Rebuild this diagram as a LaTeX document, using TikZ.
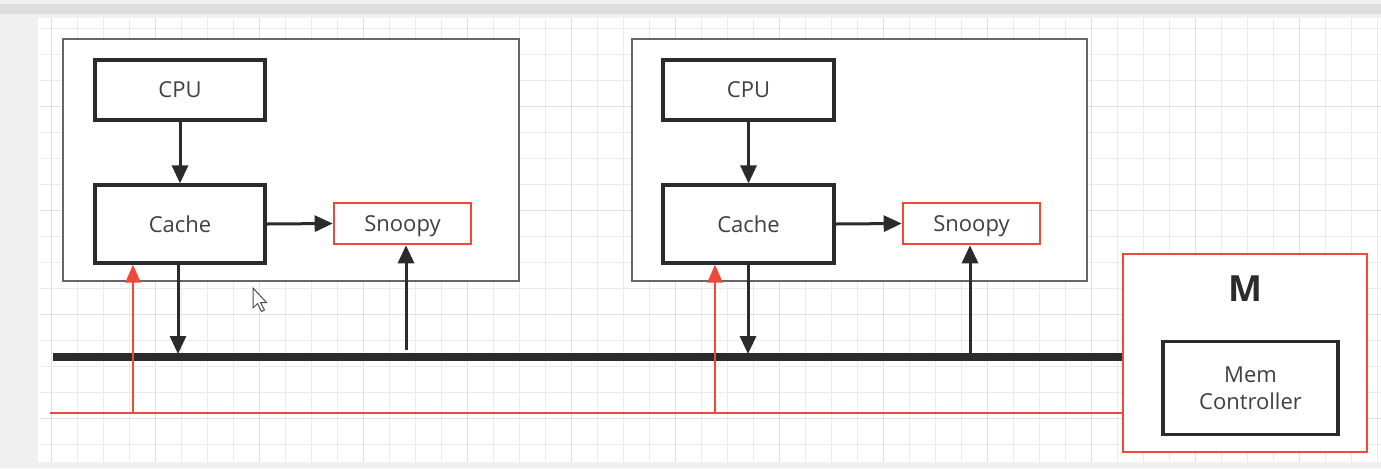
\documentclass[tikz,border=0pt]{standalone}
\usepackage{fontspec}
\setmainfont{Open Sans}
\usetikzlibrary{arrows.meta}
\definecolor{txt}{HTML}{404040}
\definecolor{edge}{HTML}{2B2B2B}
\definecolor{redl}{HTML}{F0493A}
\definecolor{gridc}{HTML}{EBEBEB}
\definecolor{gridm}{HTML}{E0E0E0}
\definecolor{frame}{HTML}{F0F0F0}
\definecolor{topbar}{HTML}{DEDEDE}
\tikzset{
  box/.style={draw=edge, line width=1.6pt, fill=white, text=txt, font=\fontsize{11}{13.5}\selectfont, align=center, inner sep=0pt},
  outerbox/.style={draw=black!60, line width=0.8pt, fill=white, inner sep=0pt},
  redbox/.style={draw=redl, line width=1.3pt, fill=white, text=txt, font=\fontsize{11}{13.5}\selectfont, inner sep=0pt},
  arr/.style={draw=edge, line width=1.5pt, -{Triangle[length=9pt,width=8pt]}},
  rarr/.style={draw=redl, line width=1.2pt, -{Triangle[length=9pt,width=7.5pt]}},
  busline/.style={draw=edge, line width=3.8pt},
  redline/.style={draw=redl, line width=1.2pt},
}
\begin{document}
\begin{tikzpicture}[x=0.5pt,y=-0.5pt]
\useasboundingbox (0,0) rectangle (1381,468);
\fill[frame] (0,0) rectangle (1381,468);
\fill[topbar] (0,4) rectangle (1381,14);
\fill[white] (38,18) rectangle (1381,462);
\begin{scope}
\clip (40,18) rectangle (1381,462);
\foreach \i in {0,...,52} {
  \pgfmathsetmacro{\xx}{25.3+26*\i}
  \pgfmathtruncatemacro{\mj}{mod(\i+3,4)==0 ? 1 : 0}
  \ifnum\mj=1
    \draw[gridm, line width=0.7pt] (\xx,18) -- (\xx,462);
  \else
    \draw[gridc, line width=0.5pt] (\xx,18) -- (\xx,462);
  \fi
}
\foreach \j in {0,...,17} {
  \pgfmathsetmacro{\yy}{28.3+26*\j}
  \pgfmathtruncatemacro{\mj}{mod(\j+1,4)==0 ? 1 : 0}
  \ifnum\mj=1
    \draw[gridm, line width=0.7pt] (40,\yy) -- (1381,\yy);
  \else
    \draw[gridc, line width=0.5pt] (40,\yy) -- (1381,\yy);
  \fi
}
\end{scope}

% outer boxes
\node[outerbox, minimum width=228pt, minimum height=121pt] (outer1) at (291,160) {};
\node[outerbox, minimum width=227.5pt, minimum height=121pt] (outer2) at (859.5,160) {};

% processor 1
\node[box, minimum width=85pt, minimum height=30pt] (cpu1) at (180,90) {CPU};
\node[box, minimum width=85pt, minimum height=39pt] (cache1) at (180,224) {Cache};
\node[redbox, minimum width=68.5pt, minimum height=20.5pt, text depth=0pt] (snoopy1) at (402.5,223.5) {Snoopy};

% processor 2
\node[box, minimum width=85.5pt, minimum height=30pt] (cpu2) at (748.5,90) {CPU};
\node[box, minimum width=85.5pt, minimum height=39pt] (cache2) at (748.5,224) {Cache};
\node[redbox, minimum width=68.5pt, minimum height=20.5pt, text depth=0pt] (snoopy2) at (971.5,223.5) {Snoopy};

% memory
\node[redbox, minimum width=122pt, minimum height=99pt] (M) at (1245,353) {};
\node[text=edge, font=\fontsize{18}{20}\selectfont\bfseries] (mlabel) at (1245,289) {M};
\node[box, minimum width=87.5pt, minimum height=46.5pt] (memc) at (1250.5,388) {Mem\\Controller};

% bus and red line
\coordinate (busL) at (53,357);
\coordinate (redL) at (50,413);
\draw[busline] (busL) -- (busL -| M.west);
\draw[redline] (redL) -- (redL -| M.west);

% coordinates on bus / red line
\coordinate (b1) at (178,354);
\coordinate (s1) at (406,350);
\coordinate (r1) at (133,413);
\coordinate (b2) at (748,354);
\coordinate (s2) at (970,354);
\coordinate (r2) at (715,413);

% arrows processor 1
\draw[arr] (cpu1.south) -- (cache1.north);
\draw[arr] (cache1.east) -- (snoopy1.west);
\draw[arr] (cache1.south -| b1) -- (b1);
\draw[arr] (s1) -- (snoopy1.south -| s1);
\draw[rarr] (r1) -- (cache1.south -| r1);

% arrows processor 2
\draw[arr] (cpu2.south) -- (cache2.north);
\draw[arr] (cache2.east) -- (snoopy2.west);
\draw[arr] (cache2.south -| b2) -- (b2);
\draw[arr] (s2) -- (snoopy2.south -| s2);
\draw[rarr] (r2) -- (cache2.south -| r2);

% mouse cursor
\coordinate (cur) at (253,288);
\draw[black!70, fill=white, line width=0.5pt] (cur) -- ++(0,20) -- ++(4.5,-4.5) -- ++(4,8) -- ++(3,-1.5) -- ++(-4,-7.5) -- ++(6,0) -- cycle;
\end{tikzpicture}
\end{document}
